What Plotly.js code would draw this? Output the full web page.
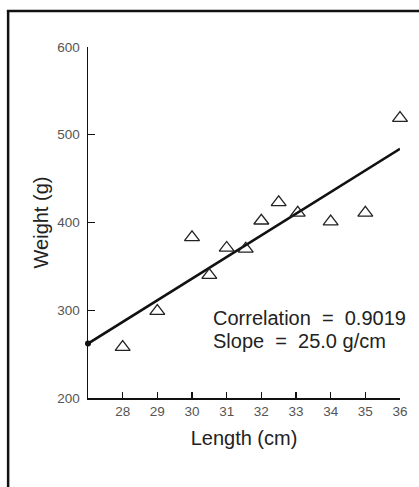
<!DOCTYPE html>
<html>
<head>
<meta charset="utf-8">
<script src="https://cdn.plot.ly/plotly-3.0.1.min.js"></script>
<style>
html,body{margin:0;padding:0;background:#fff;overflow:hidden;}
#chart{width:419px;height:487px;}
</style>
</head>
<body>
<div id="chart"></div>
<script>
// Data
var lengthCm = [28, 29, 30, 30.5, 31, 31.55, 32, 32.5, 33.05, 34, 35, 36];
var weightG  = [258, 299, 383, 340, 371, 370, 402, 423, 411, 401, 411, 519];
var fitX = [27, 36];
var fitY = [262, 484];
var xTicks = [28, 29, 30, 31, 32, 33, 34, 35, 36];
var yTicks = [200, 300, 400, 500, 600];
var statLines = ["Correlation  =  0.9019", "Slope  =  25.0 g/cm"];

var fontFam = "Liberation Sans, Arial, sans-serif";

var traces = [
  {
    x: fitX, y: fitY, type: "scatter", mode: "lines",
    line: {color: "#111", width: 2.6},
    hoverinfo: "skip", showlegend: false
  },
  {
    x: [fitX[0]], y: [fitY[0]], type: "scatter", mode: "markers",
    marker: {color: "#111", size: 6, symbol: "circle"},
    cliponaxis: false, showlegend: false
  },
  {
    x: lengthCm, y: weightG, type: "scatter", mode: "markers",
    marker: {symbol: "triangle-up-open", size: 13, color: "#222", line: {width: 1.3, color: "#222"}},
    cliponaxis: false, showlegend: false
  }
];

var layout = {
  width: 419, height: 487,
  margin: {l: 88, r: 19, t: 47, b: 89, pad: 0},
  paper_bgcolor: "#fff", plot_bgcolor: "#fff",
  showlegend: false,
  font: {family: fontFam, color: "#222"},
  xaxis: {
    range: [27, 36], tickvals: xTicks, ticktext: xTicks.map(String),
    showgrid: false, zeroline: false,
    showline: true, linecolor: "#111", linewidth: 1.5,
    ticks: "inside", ticklen: 6, tickwidth: 1.2, tickcolor: "#111",
    tickfont: {size: 13.5, color: "#555", family: fontFam},
    title: {text: "Length (cm)", font: {size: 20, color: "#222", family: fontFam}, standoff: 13}
  },
  yaxis: {
    range: [200, 600], tickvals: yTicks, ticktext: yTicks.map(String),
    showgrid: false, zeroline: false,
    showline: true, linecolor: "#111", linewidth: 1.5,
    ticks: "inside", ticklen: 7, tickwidth: 1.2, tickcolor: "#111",
    tickfont: {size: 13.5, color: "#555", family: fontFam},
    ticklabelstandoff: 4,
    title: {text: "Weight (g)", font: {size: 20, color: "#222", family: fontFam}, standoff: 3}
  },
  annotations: [
    {x: 30.55, y: 291, xref: "x", yref: "y", xanchor: "left", yanchor: "middle",
     text: statLines[0], showarrow: false, font: {size: 20, color: "#222", family: fontFam}},
    {x: 30.55, y: 265, xref: "x", yref: "y", xanchor: "left", yanchor: "middle",
     text: statLines[1], showarrow: false, font: {size: 20, color: "#222", family: fontFam}}
  ],
  shapes: [
    {type: "line", xref: "paper", yref: "paper",
     x0: -0.256, x1: -0.256, y0: -0.35, y1: 1.1026,
     line: {color: "#111", width: 2.5}, layer: "below"},
    {type: "line", xref: "paper", yref: "paper",
     x0: -0.26, x1: 1.2, y0: 1.1026, y1: 1.1026,
     line: {color: "#111", width: 2.5}, layer: "below"}
  ]
};

Plotly.newPlot("chart", traces, layout, {staticPlot: true, displayModeBar: false});
</script>
</body>
</html>
